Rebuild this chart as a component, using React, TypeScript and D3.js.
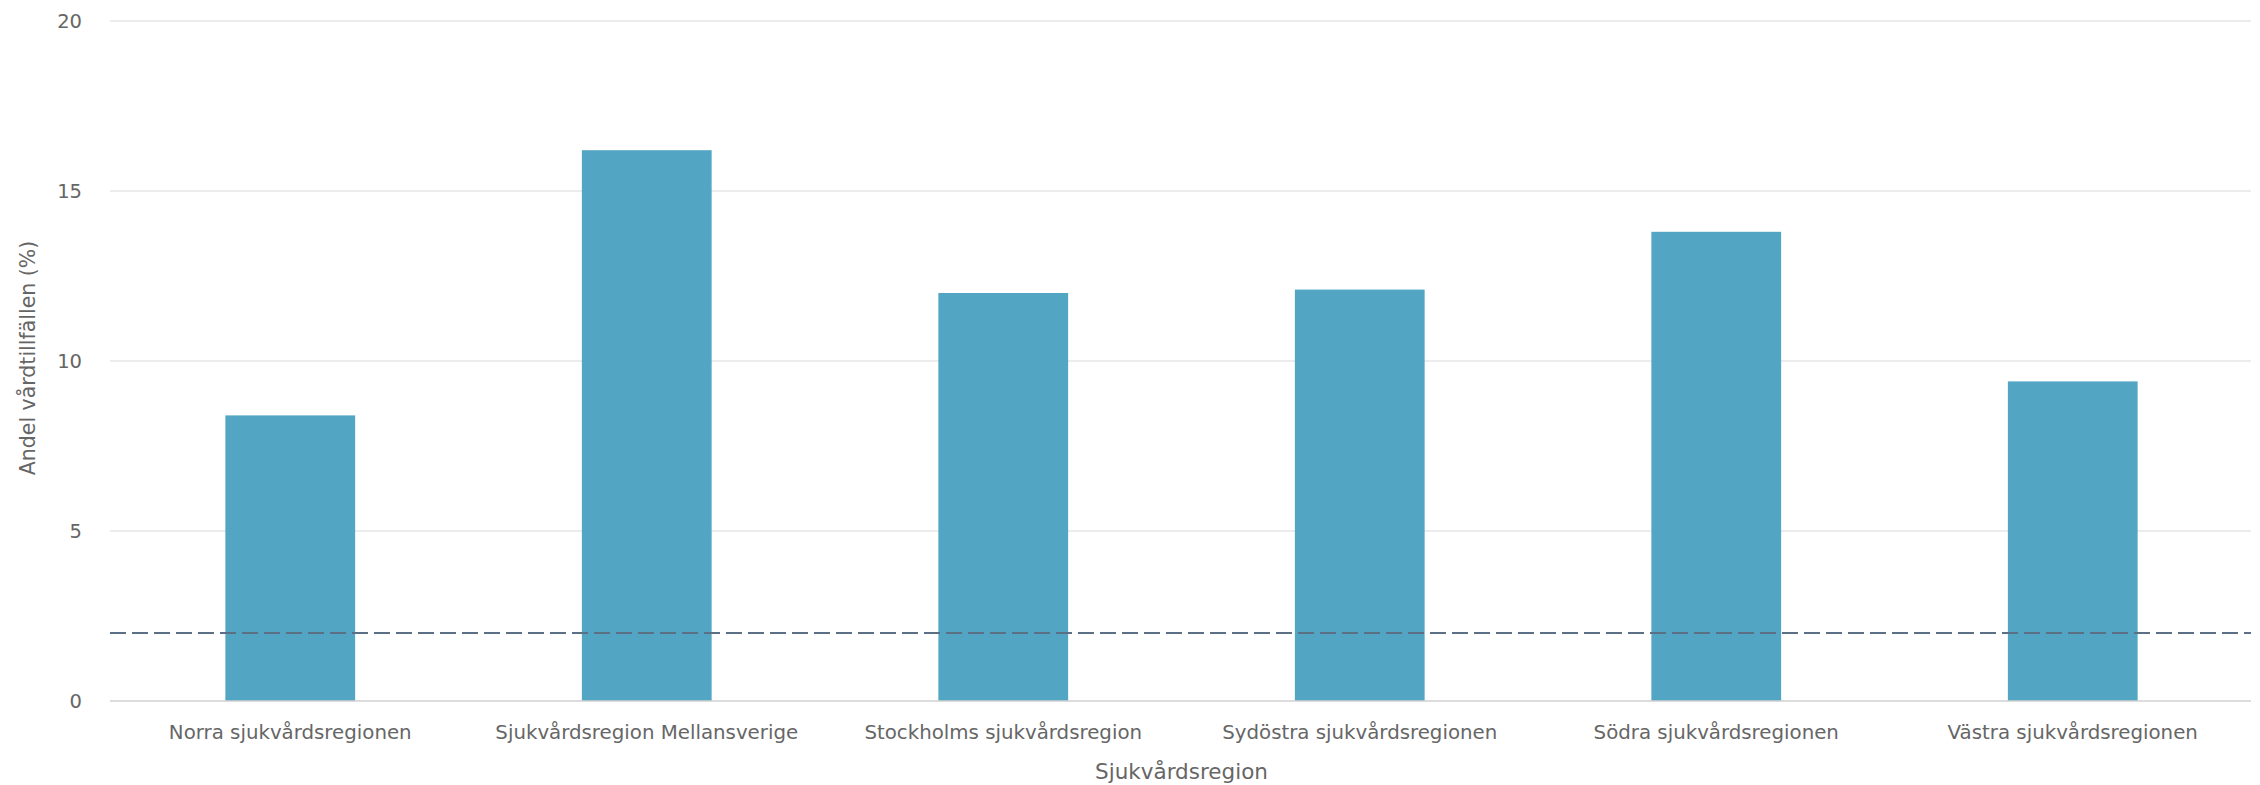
import React from "react";
import * as d3 from "d3";

const categories = [
  "Norra sjukvårdsregionen",
  "Sjukvårdsregion Mellansverige",
  "Stockholms sjukvårdsregion",
  "Sydöstra sjukvårdsregionen",
  "Södra sjukvårdsregionen",
  "Västra sjukvårdsregionen",
];
const values = [8.4, 16.2, 12.0, 12.1, 13.8, 9.4];
const yTicks = [0, 5, 10, 15, 20];
const targetValue = 2;
const xTitle = "Sjukvårdsregion";
const yTitle = "Andel vårdtillfällen (%)";

const W = 2260;
const H = 785;
const gridLeft = 110;
const plotLeft = 112;
const plotRight = 2251;
const plotTop = 21;
const plotBottom = 701;

export default function App() {
  const x = d3.scaleBand<string>().domain(categories).range([plotLeft, plotRight]).paddingInner(0.636).paddingOuter(0.318);
  const y = d3.scaleLinear().domain([0, 20]).range([plotBottom, plotTop]);
  const font = "'DejaVu Sans', sans-serif";
  return (
    <svg width={W} height={H} style={{ position: "absolute", left: 0, top: 0, background: "#fff" }}>
      {yTicks.map((t) => (
        <g key={t}>
          {t !== 0 && (
            <line x1={gridLeft} x2={plotRight} y1={y(t)} y2={y(t)} stroke="#e6e6e6" strokeWidth={1.5} />
          )}
          <text x={82} y={y(t)} dy="0.35em" textAnchor="end" fontFamily={font} fontSize={19.5} fill="#666">
            {t}
          </text>
        </g>
      ))}
      {categories.map((c, i) => (
        <rect key={c} x={x(c)} y={y(values[i])} width={x.bandwidth()} height={y(0) - y(values[i])} fill="#52a6c3" />
      ))}
      <line x1={gridLeft} x2={plotRight} y1={y(0)} y2={y(0)} stroke="#d0d0d0" strokeWidth={1.5} />
      <line x1={gridLeft} x2={plotRight} y1={y(targetValue)} y2={y(targetValue)} stroke="#5b7085" strokeWidth={2} strokeDasharray="16,6" />
      {categories.map((c) => (
        <text key={c} x={(x(c) as number) + x.bandwidth() / 2} y={732} dy="0.35em" textAnchor="middle" fontFamily={font} fontSize={19.8} fill="#666">
          {c}
        </text>
      ))}
      <text x={(plotLeft + plotRight) / 2} y={771} dy="0.35em" textAnchor="middle" fontFamily={font} fontSize={21.5} fill="#666">
        {xTitle}
      </text>
      <text transform={`translate(28, ${(plotTop + plotBottom) / 2 - 3}) rotate(-90)`} dy="0.35em" textAnchor="middle" fontFamily={font} fontSize={20.5} fill="#666">
        {yTitle}
      </text>
    </svg>
  );
}
